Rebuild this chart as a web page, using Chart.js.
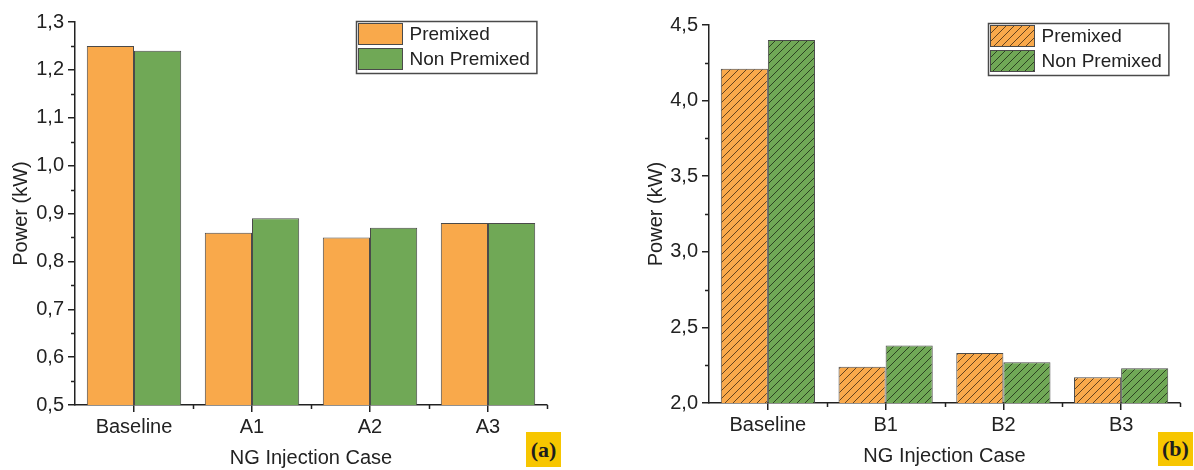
<!DOCTYPE html>
<html>
<head>
<meta charset="utf-8">
<script src="https://cdn.jsdelivr.net/npm/chart.js@4.4.1/dist/chart.umd.min.js"></script>
<style>
  html, body { margin: 0; padding: 0; background: #fff; }
  body { width: 1194px; height: 470px; position: relative; overflow: hidden; }
  .panel { position: absolute; top: 0; }
  .tag {
    position: absolute; background: #f7c600; color: #1e1e1e;
    font: bold 22px "Liberation Serif", serif;
    display: flex; align-items: center; justify-content: center;
  }
</style>
</head>
<body>
<div class="panel" style="left:0"><canvas id="chartA" width="600" height="470"></canvas></div>
<div class="panel" style="left:600px"><canvas id="chartB" width="594" height="470"></canvas></div>
<div class="tag" style="left:526px;top:432px;width:35px;height:35px">(a)</div>
<div class="tag" style="left:1158px;top:432px;width:35px;height:34px">(b)</div>
<script>
// data
const seriesNames = ['Premixed', 'Non Premixed'];

const categoriesA = ['Baseline', 'A1', 'A2', 'A3'];
const premixedA = [1.25, 0.86, 0.85, 0.88];
const nonPremixedA = [1.24, 0.89, 0.87, 0.88];
const yRangeA = [0.5, 1.3];
const yStepA = 0.1;

const categoriesB = ['Baseline', 'B1', 'B2', 'B3'];
const premixedB = [4.21, 2.24, 2.33, 2.17];
const nonPremixedB = [4.40, 2.38, 2.27, 2.23];
const yRangeB = [2.0, 4.5];
const yStepB = 0.5;

const ORANGE = '#f9a94b';
const GREEN = '#70a856';
const INK = '#222';
const FONT = '"Liberation Sans", Arial, sans-serif';
const AXIS_SIZE = 20;

function hatch(color) {
    const c = document.createElement('canvas');
    c.width = 8; c.height = 8;
    const g = c.getContext('2d');
    g.fillStyle = color;
    g.fillRect(0, 0, 8, 8);
    g.strokeStyle = 'rgba(0,0,0,0.6)';
    g.lineWidth = 1;
    g.beginPath();
    g.moveTo(0, 8); g.lineTo(8, 0);
    g.moveTo(-1, 1); g.lineTo(1, -1);
    g.moveTo(7, 9); g.lineTo(9, 7);
    g.stroke();
    return g.createPattern(c, 'repeat');
}

// minor ticks halfway between the major ones, and boxed legend in the corner
const extrasPlugin = {
    id: 'extras',
    afterDraw(chart, args, opts) {
        const ctx = chart.ctx;
        const area = chart.chartArea;
        const x = chart.scales.x, y = chart.scales.y;
        ctx.save();
        ctx.strokeStyle = INK;
        ctx.lineWidth = 1.5;
        ctx.beginPath();
        const yt = y.ticks;
        for (let i = 0; i < yt.length - 1; i++) {
            const py = Math.round(y.getPixelForValue((yt[i].value + yt[i + 1].value) / 2)) + 0.5;
            ctx.moveTo(area.left - 4, py); ctx.lineTo(area.left, py);
        }
        for (let i = 0; i < x.ticks.length; i++) {
            const px = i < x.ticks.length - 1
                ? (x.getPixelForTick(i) + x.getPixelForTick(i + 1)) / 2
                : area.right;
            ctx.moveTo(Math.round(px) + 0.5, area.bottom); ctx.lineTo(Math.round(px) + 0.5, area.bottom + 4);
        }
        ctx.stroke();

        // legend
        ctx.font = '19px ' + FONT;
        const sets = chart.data.datasets;
        let tw = 0;
        sets.forEach(d => { tw = Math.max(tw, ctx.measureText(d.label).width); });
        const w = 53 + tw + 7, h = 52;
        const left = Math.round(area.right - opts.right - w) + 0.5;
        const top = Math.round(area.top - opts.up) + 0.5;
        ctx.fillStyle = '#fff';
        ctx.fillRect(left, top, w, h);
        ctx.strokeStyle = '#4a4a4a';
        ctx.lineWidth = 1.5;
        ctx.strokeRect(left, top, w, h);
        sets.forEach((d, i) => {
            const sy = top + 2 + i * 25;
            ctx.fillStyle = d.backgroundColor;
            ctx.fillRect(left + 2, sy, 44, 21);
            ctx.strokeStyle = '#4a4a4a';
            ctx.lineWidth = 1;
            ctx.strokeRect(left + 2, sy, 44, 21);
            ctx.fillStyle = INK;
            ctx.textBaseline = 'middle';
            ctx.textAlign = 'left';
            ctx.fillText(d.label, left + 53, sy + 11.5);
        });
        ctx.restore();
    }
};

function makeChart(id, cats, p, np, yRange, yStep, hatched, lay) {
    const colors = hatched ? [hatch(ORANGE), hatch(GREEN)] : [ORANGE, GREEN];
    return new Chart(document.getElementById(id), {
        type: 'bar',
        data: {
            labels: cats,
            datasets: [p, np].map((vals, i) => ({
                label: seriesNames[i],
                data: vals,
                backgroundColor: colors[i],
                borderColor: '#4a4a4a',
                borderWidth: 1,
                borderSkipped: false,
                categoryPercentage: 0.8,
                barPercentage: 1.0
            }))
        },
        options: {
            responsive: false,
            animation: false,
            devicePixelRatio: 1,
            layout: { padding: { left: 0, top: lay.top, right: lay.right, bottom: 0 } },
            plugins: {
                legend: { display: false },
                tooltip: { enabled: false },
                extras: { right: lay.legendRight, up: lay.legendUp }
            },
            scales: {
                x: {
                    afterFit: s => { s.height = lay.xHeight; },
                    grid: { offset: false, drawOnChartArea: false, tickLength: 7, color: INK, lineWidth: 1.5 },
                    border: { color: INK, width: 1.5 },
                    ticks: { color: INK, font: { family: FONT, size: AXIS_SIZE }, padding: 3, maxRotation: 0 },
                    title: { display: true, text: 'NG Injection Case', color: INK,
                             font: { family: FONT, size: AXIS_SIZE }, padding: { top: 0, bottom: lay.xTitlePad } }
                },
                y: {
                    min: yRange[0], max: yRange[1],
                    afterFit: s => { s.width = lay.yWidth; },
                    grid: { drawOnChartArea: false, tickLength: 7, color: INK, lineWidth: 1.5 },
                    border: { color: INK, width: 1.5 },
                    ticks: { stepSize: yStep, color: INK, font: { family: FONT, size: AXIS_SIZE }, padding: 4,
                             callback: v => v.toFixed(1).replace('.', ',') },
                    title: { display: true, text: 'Power (kW)', color: INK,
                             font: { family: FONT, size: AXIS_SIZE }, padding: { top: lay.yTitlePad, bottom: 0 } }
                }
            }
        },
        plugins: [extrasPlugin]
    });
}

makeChart('chartA', categoriesA, premixedA, nonPremixedA, yRangeA, yStepA, false,
    { top: 22, right: 53, xHeight: 65, yWidth: 75, yTitlePad: 9, xTitlePad: 0, legendRight: 11, legendUp: 1 });
makeChart('chartB', categoriesB, premixedB, nonPremixedB, yRangeB, yStepB, true,
    { top: 25, right: 14, xHeight: 67, yWidth: 109, yTitlePad: 44, xTitlePad: 2, legendRight: 12, legendUp: 2 });
</script>
</body>
</html>
